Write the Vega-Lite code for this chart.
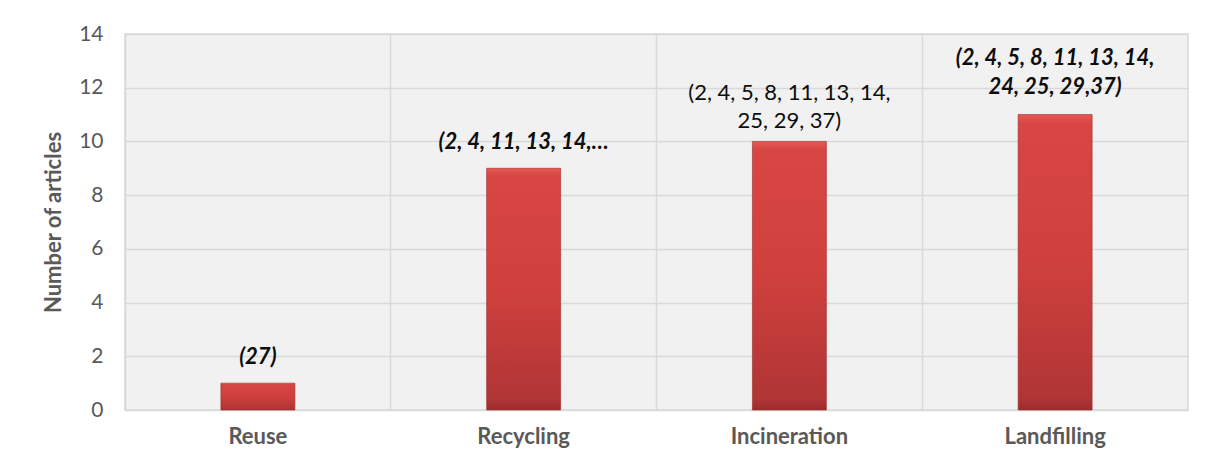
{
  "$schema": "https://vega.github.io/schema/vega-lite/v6.json",
  "autosize": "none",
  "width": 1063,
  "height": 376,
  "padding": {"left": 125, "top": 34, "right": 24, "bottom": 56},
  "background": "#ffffff",
  "config": {
    "view": {"fill": "#f1f1f1", "stroke": "#d9d9d9", "strokeWidth": 1.5},
    "font": "Lato"
  },
  "data": {
    "values": [
      {"category": "Reuse", "articles": 1, "refs": "(27)"},
      {"category": "Recycling", "articles": 9, "refs": "(2, 4, 11, 13, 14,…"},
      {"category": "Incineration", "articles": 10, "refs": "(2, 4, 5, 8, 11, 13, 14,\n25, 29, 37)"},
      {"category": "Landfilling", "articles": 11, "refs": "(2, 4, 5, 8, 11, 13, 14,\n24, 25, 29,37)"}
    ]
  },
  "encoding": {
    "x": {
      "field": "category",
      "type": "nominal",
      "sort": null,
      "scale": {"paddingInner": 0, "paddingOuter": 0},
      "axis": {
        "title": null,
        "labelAngle": 0,
        "labelFont": "Lato",
        "labelFontSize": 22,
        "labelFontWeight": "bold",
        "labelColor": "#595959",
        "labelPadding": 16,
        "ticks": false,
        "domain": false,
        "grid": true,
        "gridColor": "#d9d9d9",
        "gridWidth": 1.5,
        "bandPosition": 0
      }
    },
    "y": {
      "field": "articles",
      "type": "quantitative",
      "scale": {"domain": [0, 14]},
      "axis": {
        "title": "Number of articles",
        "titleFont": "Lato",
        "titleFontSize": 22,
        "titleFontWeight": "bold",
        "titleColor": "#595959",
        "titlePadding": 13,
        "values": [0, 2, 4, 6, 8, 10, 12, 14],
        "labelFont": "Lato",
        "labelFontSize": 21,
        "labelColor": "#595959",
        "labelPadding": 22,
        "ticks": false,
        "domain": false,
        "gridColor": "#d9d9d9",
        "gridWidth": 1.5
      }
    }
  },
  "layer": [
    {
      "mark": {
        "type": "bar",
        "size": 74,
        "stroke": "#9e2b2a",
        "strokeWidth": 0.6,
        "fill": {
          "gradient": "linear",
          "x1": 0, "y1": 0, "x2": 0, "y2": 1,
          "stops": [
            {"offset": 0, "color": "#e55a56"},
            {"offset": 0.03, "color": "#d84643"},
            {"offset": 0.5, "color": "#cf403d"},
            {"offset": 0.96, "color": "#b03535"},
            {"offset": 1, "color": "#9a2d2c"}
          ]
        }
      }
    },
    {
      "transform": [{"filter": "datum.category === 'Reuse' || datum.category === 'Recycling'"}],
      "mark": {
        "type": "text",
        "baseline": "bottom",
        "align": "center",
        "dy": -14,
        "fontSize": 22,
        "fontWeight": "bold",
        "fontStyle": "italic",
        "color": "#0d0d0d"
      },
      "encoding": {"text": {"field": "refs"}}
    },
    {
      "transform": [{"filter": "datum.category === 'Landfilling'"}],
      "mark": {
        "type": "text",
        "baseline": "bottom",
        "align": "center",
        "dy": -45,
        "fontSize": 22,
        "fontWeight": "bold",
        "fontStyle": "italic",
        "lineBreak": "\n",
        "lineHeight": 29,
        "color": "#0d0d0d"
      },
      "encoding": {"text": {"field": "refs"}}
    },
    {
      "transform": [{"filter": "datum.category === 'Incineration'"}],
      "mark": {
        "type": "text",
        "baseline": "bottom",
        "align": "center",
        "dy": -36,
        "fontSize": 22,
        "lineBreak": "\n",
        "lineHeight": 28,
        "color": "#0d0d0d"
      },
      "encoding": {"text": {"field": "refs"}}
    }
  ]
}
